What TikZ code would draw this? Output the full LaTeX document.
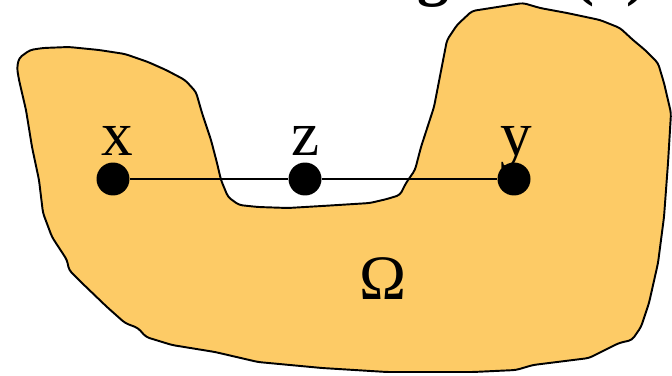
\documentclass[tikz,border=0pt]{standalone}
\usepackage{fontspec}
\setmainfont{Liberation Serif}
\usetikzlibrary{positioning}
\definecolor{regionfill}{RGB}{253,203,102}

\begin{document}
\begin{tikzpicture}[
  x=0.02cm, y=-0.02cm,
  region/.style={draw=black, fill=regionfill, line width=1.1pt,
    line join=round, rounded corners=2pt},
  dot/.style={circle, fill=black, inner sep=0pt, minimum size=0.66cm},
  lbl/.style={inner sep=0pt, anchor=base, font=\fontsize{36}{40}\selectfont},
  seg/.style={line width=1pt}
]
\useasboundingbox (0,0) rectangle (672,375);
\node[lbl, font=\fontsize{36}{40}\selectfont\bfseries, anchor=base east] (title) at (648,-6) {Nonconvex regions (x)};

\draw[region] (17,68) -- (19,58) -- (30,50) -- (43,48) -- (69,47) -- (99,50)
  -- (125,54) -- (148,62) -- (166,70) -- (185,80) -- (196,92) -- (202,113)
  -- (211,140) -- (217,163) -- (221,180) -- (228,197) -- (239,205) -- (258,207)
  -- (288,208) -- (322,206) -- (370,203) -- (387,199) -- (400,195) -- (406,183)
  -- (415,170) -- (421,147) -- (434,107) -- (447,40) -- (457,25) -- (472,11)
  -- (523,3) -- (540,8) -- (567,13) -- (600,20) -- (620,28) -- (633,40)
  -- (645,50) -- (658,63) -- (664,83) -- (671,113) -- (668,163) -- (664,217)
  -- (658,263) -- (649,303) -- (641,327) -- (632,340) -- (619,343) -- (589,358)
  -- (533,365) -- (516,370) -- (473,372) -- (387,372) -- (322,368) -- (258,362)
  -- (215,352) -- (172,345) -- (146,337) -- (138,328) -- (125,323) -- (107,307)
  -- (82,283) -- (69,270) -- (67,260) -- (52,237) -- (43,213) -- (39,180)
  -- (32,147) -- (26,110) -- (19,80) -- cycle;

\node[dot] (ptx) at (113,179) {};
\node[dot] (ptz) at (305,179) {};
\node[dot] (pty) at (514,179) {};
\draw[seg] (ptx) -- (ptz) -- (pty);

\node[lbl] (labx) at (117,155) {x};
\node[lbl] (labz) at (306,155) {z};
\node[lbl] (laby) at (516,155) {y};
\node[lbl] (omega) at (383,299) {Ω};
\end{tikzpicture}
\end{document}
